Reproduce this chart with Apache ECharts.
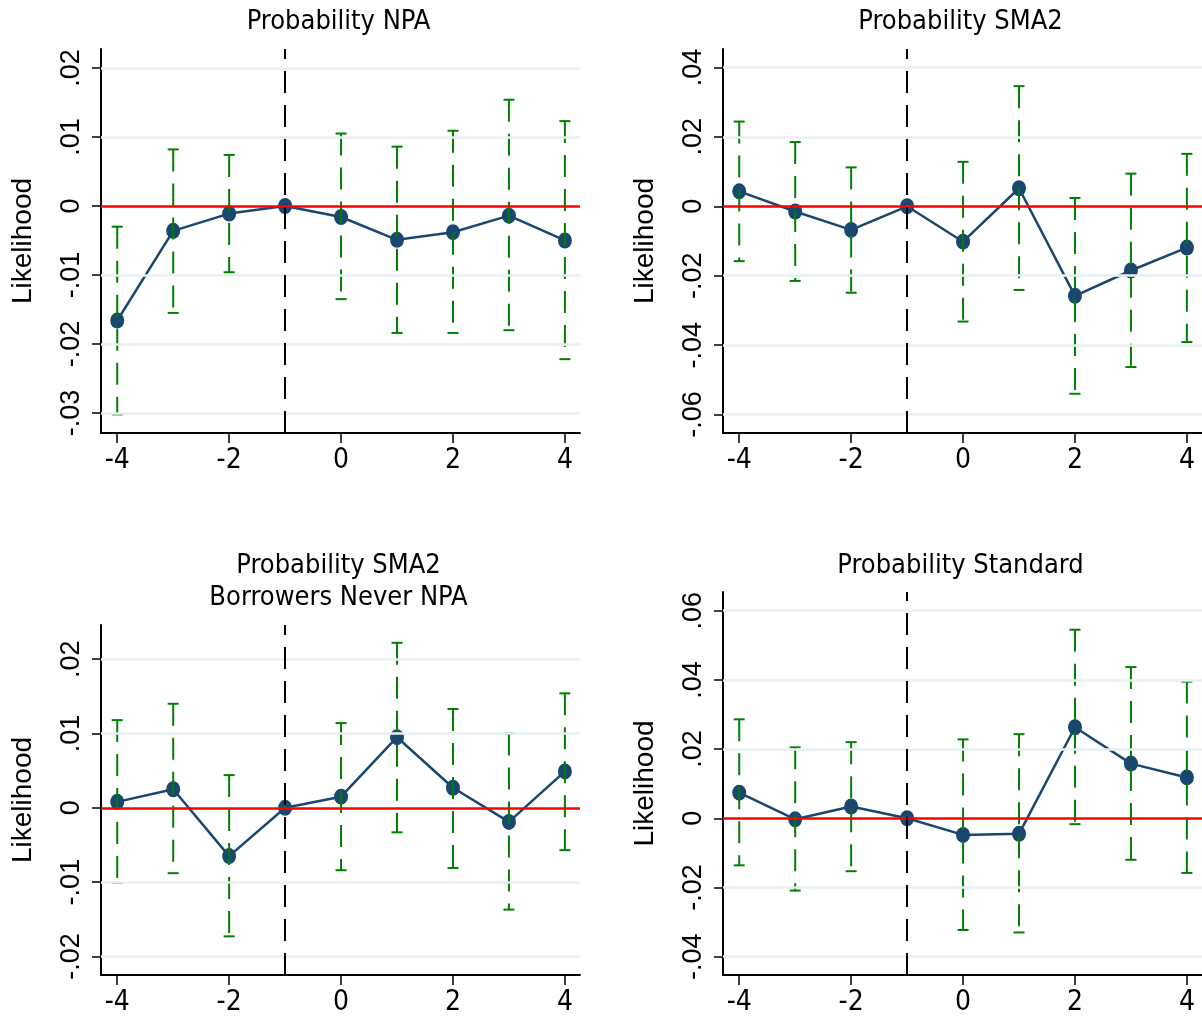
<!DOCTYPE html>
<html>
<head>
<meta charset="utf-8">
<script src="https://cdn.jsdelivr.net/npm/echarts@6/dist/echarts.min.js"></script>
<style>
  html, body { margin: 0; padding: 0; background: #fff; }
  #chart { width: 1202px; height: 1017px; }
</style>
</head>
<body>
<div id="chart"></div>
<script>
// event time (years relative to treatment), -1 is the base year (estimate fixed at 0)
const years = [-4, -3, -2, -1, 0, 1, 2, 3, 4];
const xTicks = [-4, -2, 0, 2, 4];

// Probability NPA
const npaCoef = [-0.0166, -0.0036, -0.0011, 0, -0.0016, -0.0049, -0.0038, -0.0014, -0.0050];
const npaLo   = [-0.0302, -0.0155, -0.0096, 0, -0.0135, -0.0184, -0.0184, -0.0180, -0.0222];
const npaHi   = [-0.0030, 0.0082, 0.0074, 0, 0.0105, 0.0086, 0.0109, 0.0154, 0.0123];
const npaTicks = [-0.03, -0.02, -0.01, 0, 0.01, 0.02];

// Probability SMA2
const sma2Coef = [0.0043, -0.0015, -0.0068, 0, -0.0102, 0.0052, -0.0258, -0.0185, -0.0119];
const sma2Lo   = [-0.0158, -0.0215, -0.0249, 0, -0.0332, -0.0241, -0.0540, -0.0463, -0.0391];
const sma2Hi   = [0.0244, 0.0185, 0.0112, 0, 0.0128, 0.0346, 0.0024, 0.0094, 0.0151];
const sma2Ticks = [-0.06, -0.04, -0.02, 0, 0.02, 0.04];

// Probability SMA2, borrowers never NPA
const neverCoef = [0.0008, 0.0025, -0.0065, 0, 0.0015, 0.0095, 0.0027, -0.0019, 0.0049];
const neverLo   = [-0.0101, -0.0088, -0.0173, 0, -0.0084, -0.0033, -0.0081, -0.0137, -0.0057];
const neverHi   = [0.0118, 0.0140, 0.0044, 0, 0.0114, 0.0222, 0.0133, 0.0100, 0.0154];
const neverTicks = [-0.02, -0.01, 0, 0.01, 0.02];

// Probability Standard
const stdCoef = [0.0074, -0.0003, 0.0034, 0, -0.0048, -0.0045, 0.0263, 0.0158, 0.0118];
const stdLo   = [-0.0136, -0.0209, -0.0153, 0, -0.0323, -0.0330, -0.0017, -0.0120, -0.0158];
const stdHi   = [0.0286, 0.0205, 0.0220, 0, 0.0228, 0.0243, 0.0545, 0.0437, 0.0395];
const stdTicks = [-0.04, -0.02, 0, 0.02, 0.04, 0.06];

const NAVY = '#1a476f';
const GREEN = '#008000';
const GRIDC = '#e8f0f2';
const NARROW = "'Liberation Sans Narrow', 'DejaVu Sans Condensed', 'Liberation Sans', sans-serif";
const REGULAR = "'Liberation Sans', Arial, sans-serif";

const panels = [
  { title: 'Probability NPA', coef: npaCoef, lo: npaLo, hi: npaHi, ticks: npaTicks,
    ymin: -0.0329, ymax: 0.02275, grid: { left: 101, top: 49, width: 479, height: 384 }, titleTop: 6 },
  { title: 'Probability SMA2', coef: sma2Coef, lo: sma2Lo, hi: sma2Hi, ticks: sma2Ticks,
    ymin: -0.0653, ymax: 0.0453, grid: { left: 723, top: 49, width: 479, height: 384 }, titleTop: 6 },
  { title: 'Probability SMA2\nBorrowers Never NPA', coef: neverCoef, lo: neverLo, hi: neverHi, ticks: neverTicks,
    ymin: -0.0225, ymax: 0.0246, grid: { left: 101, top: 625, width: 479, height: 350 }, titleTop: 550 },
  { title: 'Probability Standard', coef: stdCoef, lo: stdLo, hi: stdHi, ticks: stdTicks,
    ymin: -0.0453, ymax: 0.0654, grid: { left: 723, top: 592, width: 479, height: 383 }, titleTop: 550 }
];

function fmt(v) {
  if (Math.abs(v) < 1e-9) return '0';
  return (v < 0 ? '-' : '') + Math.abs(v).toFixed(2).replace(/^0/, '');
}

function errorBar(params, api) {
  const x = api.value(0);
  const lo = api.coord([x, api.value(1)]);
  const hi = api.coord([x, api.value(2)]);
  const w = 5.5;
  const cap = { stroke: GREEN, lineWidth: 2 };
  return {
    type: 'group',
    children: [
      { type: 'line', shape: { x1: hi[0], y1: hi[1], x2: lo[0], y2: lo[1] },
        style: { stroke: GREEN, lineWidth: 2, lineDash: [22, 12] } },
      { type: 'line', shape: { x1: hi[0] - w, y1: hi[1], x2: hi[0] + w, y2: hi[1] }, style: cap },
      { type: 'line', shape: { x1: lo[0] - w, y1: lo[1], x2: lo[0] + w, y2: lo[1] }, style: cap }
    ]
  };
}

const option = {
  animation: false,
  backgroundColor: '#fff',
  title: [], grid: [], xAxis: [], yAxis: [], series: []
};

panels.forEach((p, i) => {
  option.title.push({
    text: p.title,
    left: p.grid.left + p.grid.width / 2 - 2,
    top: p.titleTop,
    textAlign: 'center',
    padding: 0,
    textStyle: { fontFamily: NARROW, fontSize: 27, fontWeight: 'normal', color: '#000', lineHeight: 32 }
  });
  option.grid.push(Object.assign({ containLabel: false }, p.grid));
  option.xAxis.push({
    type: 'value', gridIndex: i, min: -4.29, max: 4.27,
    axisLine: { show: true, onZero: false, lineStyle: { color: '#000', width: 2 } },
    axisTick: { show: true, length: 10, customValues: xTicks, lineStyle: { color: '#000', width: 1.5 } },
    axisLabel: { customValues: xTicks, margin: 14, fontFamily: NARROW, fontSize: 28, color: '#000' },
    splitLine: { show: false }
  });
  option.yAxis.push({
    type: 'value', gridIndex: i, min: p.ymin, max: p.ymax,
    name: 'Likelihood', nameLocation: 'middle', nameRotate: 90, nameGap: 64,
    nameTextStyle: { fontFamily: REGULAR, fontSize: 28, color: '#000' },
    axisLine: { show: true, onZero: false, lineStyle: { color: '#000', width: 2 } },
    axisTick: { show: true, length: 9, customValues: p.ticks, lineStyle: { color: '#000', width: 1.5 } },
    axisLabel: { customValues: p.ticks, rotate: 90, margin: 16, fontFamily: REGULAR, fontSize: 27,
      color: '#000', formatter: fmt },
    splitLine: { show: false }
  });

  // reference lines: grid lines, zero line, base year line
  const refLines = p.ticks.filter(t => t !== 0).map(t => ({ yAxis: t, lineStyle: { color: GRIDC, width: 2.5, type: 'solid' } }));
  refLines.push({ yAxis: 0, lineStyle: { color: '#ff0000', width: 2.5, type: 'solid' } });
  refLines.push({ xAxis: -1, lineStyle: { color: '#000', width: 2, type: [22, 12] } });
  option.series.push({
    type: 'line', xAxisIndex: i, yAxisIndex: i, z: 1, silent: true,
    data: years.map((y, k) => [y, p.coef[k]]),
    showSymbol: false, lineStyle: { opacity: 0 },
    markLine: { silent: true, symbol: 'none', label: { show: false }, animation: false, data: refLines }
  });

  // point estimates
  option.series.push({
    type: 'line', xAxisIndex: i, yAxisIndex: i, z: 2,
    data: years.map((y, k) => [y, p.coef[k]]),
    symbol: 'circle', symbolSize: [14, 16], showAllSymbol: true,
    itemStyle: { color: NAVY },
    lineStyle: { color: NAVY, width: 2.5 }
  });

  // confidence intervals, drawn over the markers
  option.series.push({
    type: 'custom', xAxisIndex: i, yAxisIndex: i, z: 3, silent: true,
    renderItem: errorBar,
    encode: { x: 0, y: [1, 2] },
    data: years.map((y, k) => [y, p.lo[k], p.hi[k]])
  });
});

const chart = echarts.init(document.getElementById('chart'), null, { renderer: 'canvas' });
chart.setOption(option);
</script>
</body>
</html>
